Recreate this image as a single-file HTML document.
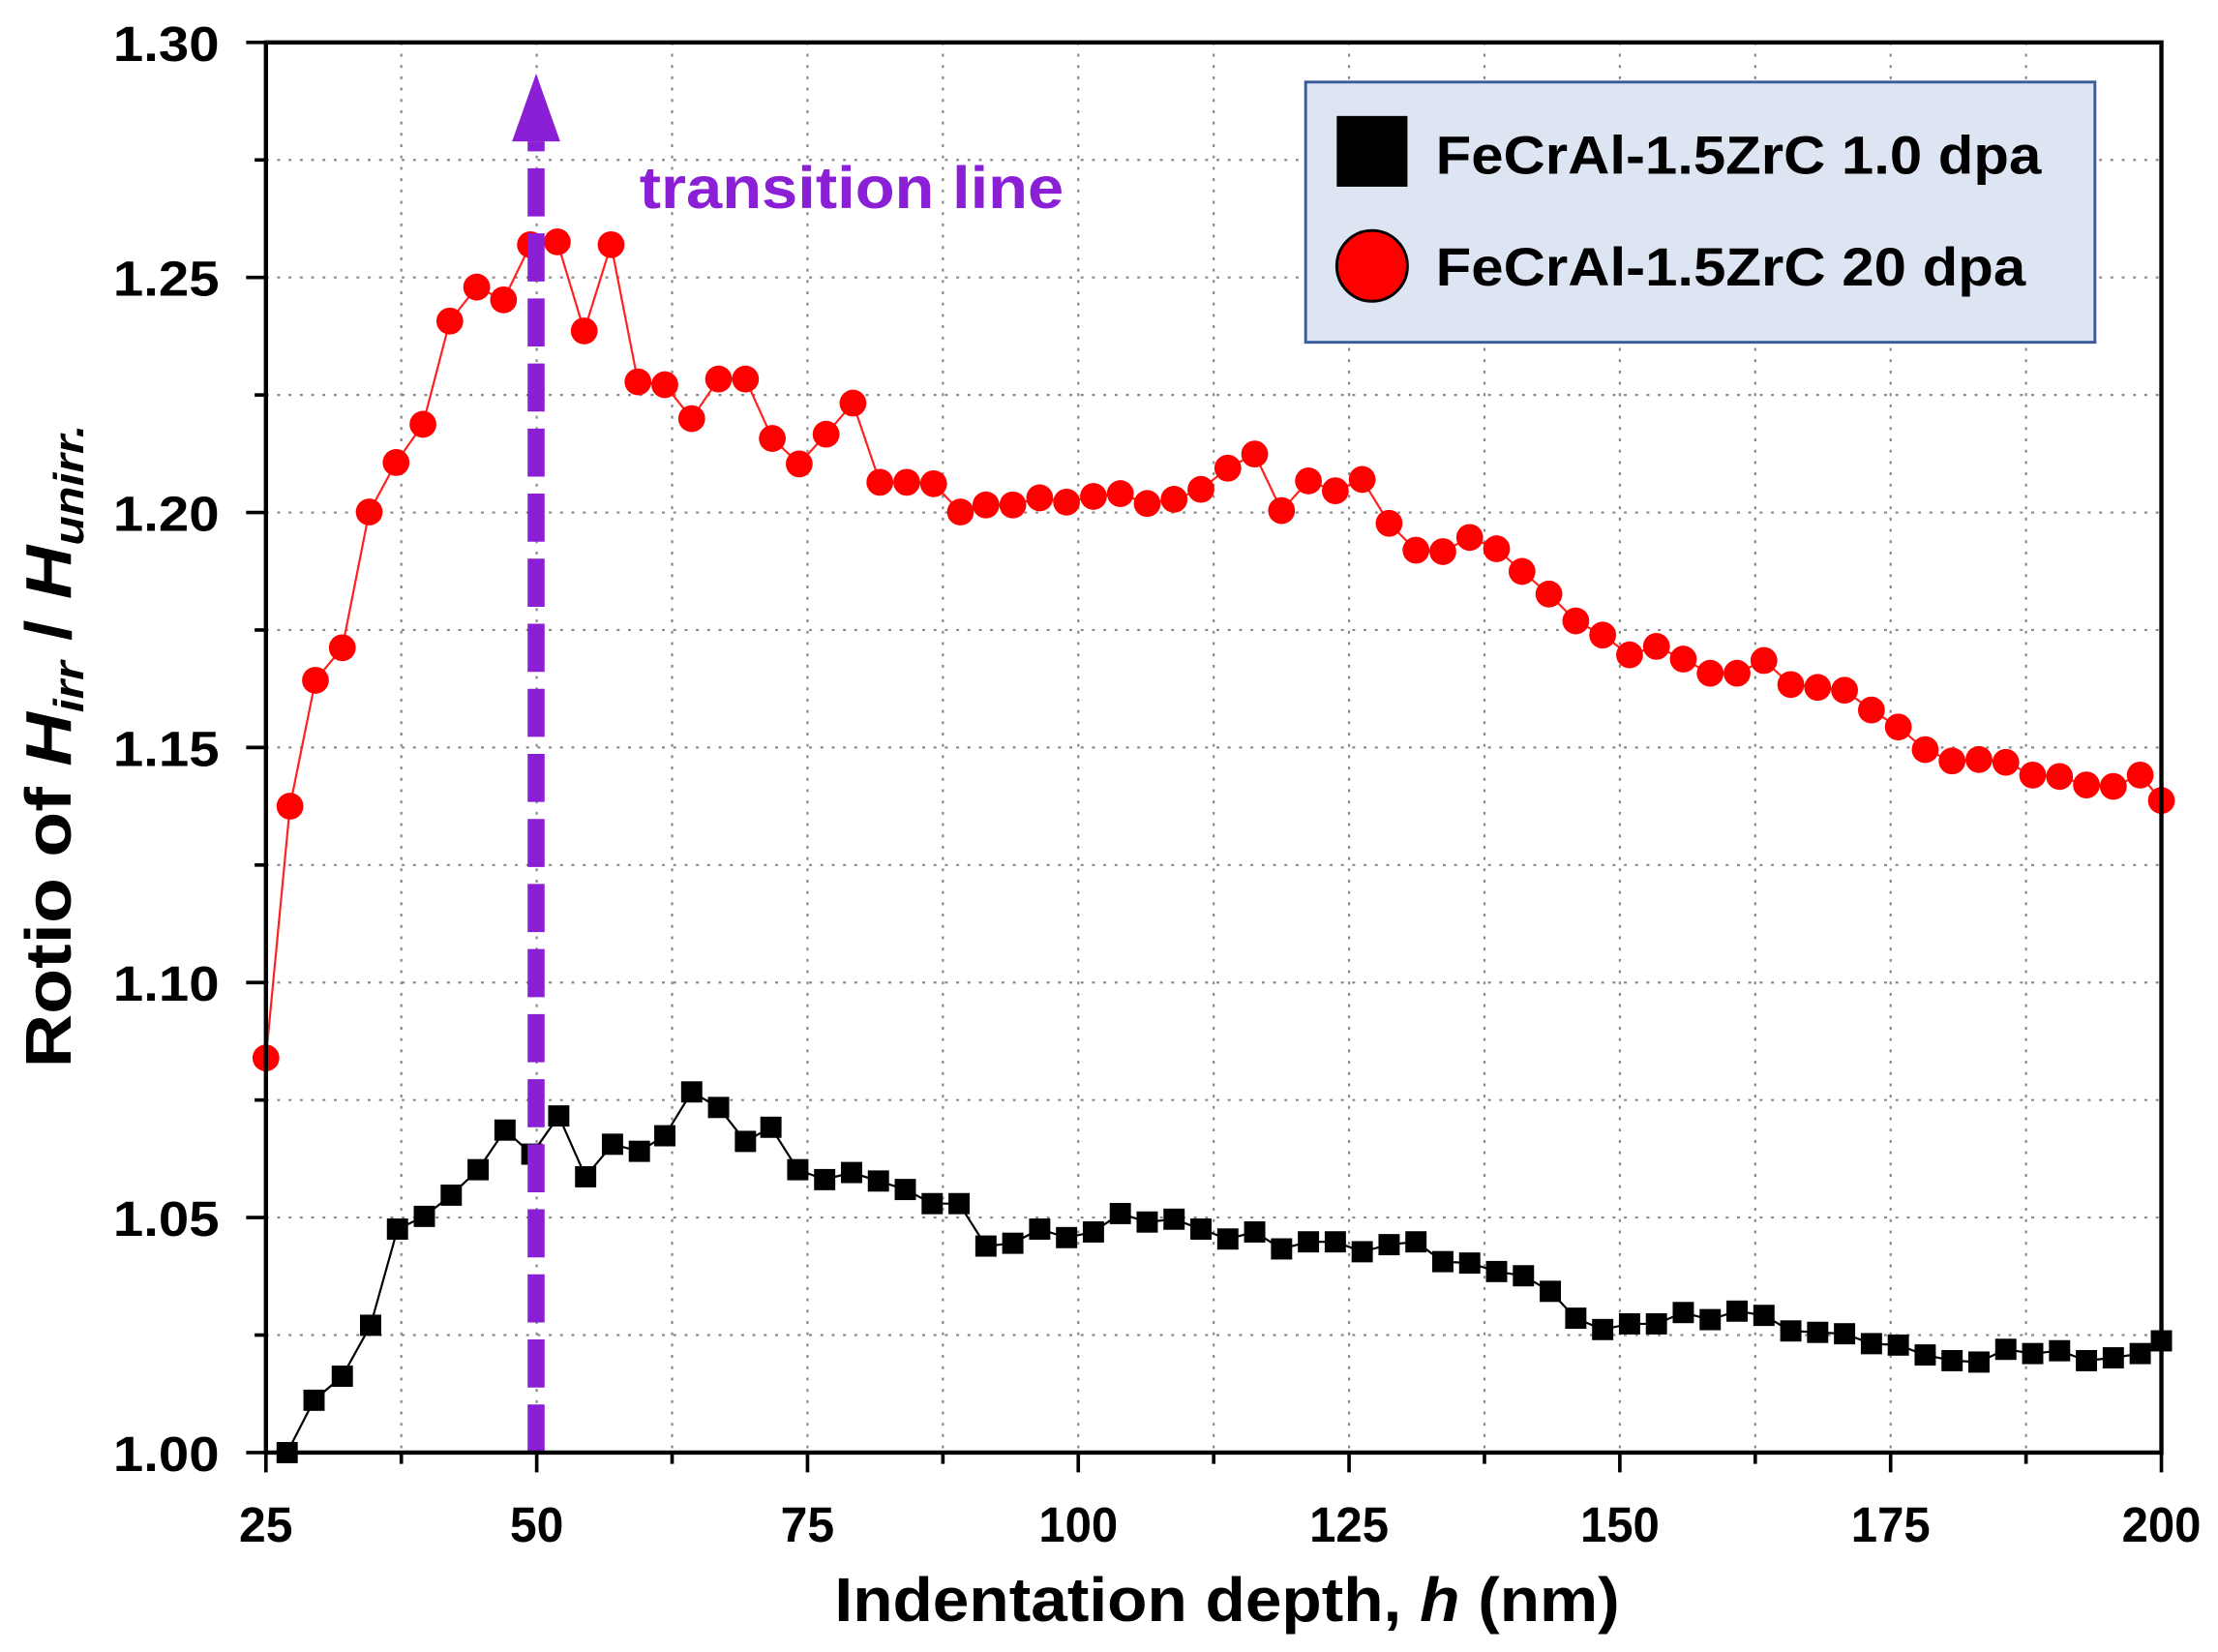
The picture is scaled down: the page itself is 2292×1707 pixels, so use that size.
<!DOCTYPE html>
<html><head><meta charset="utf-8"><style>
html,body{margin:0;padding:0;background:#fff;}
svg{display:block;font-family:"Liberation Sans",Arial,sans-serif;}
</style></head><body>
<svg id="s" width="2292" height="1707" viewBox="0 0 1568 1168" preserveAspectRatio="none" xmlns="http://www.w3.org/2000/svg">
<rect width="1568" height="1168" fill="#fff"/>
<g id="grid" stroke="#888" stroke-width="1.5" stroke-dasharray="2 6"></g>
<g id="ticks" stroke="#000" stroke-width="2.5"></g>
<g id="labels" font-weight="bold" font-size="35" fill="#000"></g>
<polyline id="rl" fill="none" stroke="#ff2020" stroke-width="1.5"/>
<polyline id="bl" fill="none" stroke="#000" stroke-width="1.5"/>
<g id="rm" fill="#ff0000"></g>
<g id="bm" fill="#000"></g>
<line x1="379" y1="1027" x2="379" y2="100" stroke="#8a1fd6" stroke-width="12" stroke-dasharray="34 12"/>
<polygon points="379,52 362,100 396,100" fill="#8a1fd6"/>
<text x="452" y="147" font-size="42" font-weight="bold" fill="#8a1fd6" textLength="300" lengthAdjust="spacingAndGlyphs">transition line</text>
<rect x="188" y="30" width="1340" height="997" fill="none" stroke="#000" stroke-width="3"/>
<rect x="923" y="58" width="558" height="184" fill="#dde4f2" stroke="#3a5a9a" stroke-width="2"/>
<rect x="945" y="82" width="50" height="50" fill="#000"/>
<circle cx="970" cy="188" r="25" fill="#ff0000" stroke="#000" stroke-width="2"/>
<text x="1015" y="123" font-size="38" font-weight="bold" textLength="428" lengthAdjust="spacingAndGlyphs">FeCrAl-1.5ZrC 1.0 dpa</text>
<text x="1015" y="202" font-size="38" font-weight="bold" textLength="417" lengthAdjust="spacingAndGlyphs">FeCrAl-1.5ZrC 20 dpa</text>
<text x="590" y="1146" font-size="44" font-weight="bold" textLength="555" lengthAdjust="spacingAndGlyphs">Indentation depth, <tspan font-style="italic">h</tspan> (nm)</text>
<text transform="translate(50,755) rotate(-90)" font-size="46" font-weight="bold" textLength="455" lengthAdjust="spacingAndGlyphs">Rotio of <tspan font-style="italic">H</tspan><tspan font-style="italic" font-size="30" dy="9">irr</tspan><tspan dy="-9"> / </tspan><tspan font-style="italic">H</tspan><tspan font-style="italic" font-size="30" dy="9">unirr.</tspan></text>
</svg>
<script>
var NS="http://www.w3.org/2000/svg";
function el(p,t,a){var e=document.createElementNS(NS,t);for(var k in a)e.setAttribute(k,a[k]);document.getElementById(p).appendChild(e);return e;}
var L=188,R=1528,T=30,B=1027;
for(var i=1;i<14;i++){var x=L+i*(R-L)/14;el("grid","line",{x1:x,y1:T,x2:x,y2:B});}
for(var i=1;i<12;i++){var y=T+i*(B-T)/12;el("grid","line",{x1:L,y1:y,x2:R,y2:y});}
for(var i=0;i<=14;i++){var x=L+i*(R-L)/14,len=i%2?8:14;el("ticks","line",{x1:x,y1:B,x2:x,y2:B+len});
 if(i%2==0){var v=25+i/2*25;var w=v>=100?56:38;var t=el("labels","text",{x:x-w/2,y:1090,textLength:w,lengthAdjust:"spacingAndGlyphs"});t.textContent=v;}}
for(var i=0;i<=12;i++){var y=B-i*(B-T)/12,len=i%2?8:14;el("ticks","line",{x1:L,y1:y,x2:L-len,y2:y});
 if(i%2==0){var t=el("labels","text",{x:80,y:y+13,textLength:75,lengthAdjust:"spacingAndGlyphs"});t.textContent=(1+i/2*0.05).toFixed(2);}}
var red=[188,748,205,570,223,481,242,458,261,362,280,327,299,300,318,227,337,203,356,212,375,173,394,171,413,234,432,173,451,270,470,272,489,296,508,268,527,268,546,310,565,328,584,307,603,285,622,341,641,341,660,342,679,362,697,357,716,357,735,352,754,355,773,351,792,349,811,356,830,353,849,346,868,331,887,321,906,361,925,340,944,347,963,339,982,370,1001,389,1020,390,1039,380,1058,388,1076,404,1095,420,1114,439,1133,449,1152,463,1171,457,1190,466,1209,476,1228,476,1247,467,1266,484,1285,486,1304,488,1323,502,1342,514,1361,530,1380,538,1399,537,1418,539,1437,548,1456,549,1475,555,1494,556,1513,548,1528,566];
var blk=[203,1027,222,990,242,973,262,937,281,869,300,860,319,845,338,827,357,799,376,816,395,789,414,832,433,809,452,814,470,803,489,772,508,783,527,807,545,797,564,827,583,834,602,829,621,835,640,841,659,851,678,851,697,881,716,879,735,869,754,875,773,871,792,858,811,864,830,862,849,869,868,876,887,871,906,883,925,878,944,878,963,885,982,880,1001,878,1020,892,1039,893,1058,899,1077,902,1096,913,1114,932,1133,940,1152,936,1171,936,1190,928,1209,933,1228,927,1247,930,1266,941,1285,942,1304,943,1323,950,1342,951,1361,958,1380,962,1399,963,1418,954,1437,957,1456,955,1475,962,1494,960,1513,957,1528,948];
var p="";for(var i=0;i<red.length;i+=2){p+=red[i]+","+red[i+1]+" ";el("rm","circle",{cx:red[i],cy:red[i+1],r:9.5});}
document.getElementById("rl").setAttribute("points",p);
p="";for(var i=0;i<blk.length;i+=2){p+=blk[i]+","+blk[i+1]+" ";el("bm","rect",{x:blk[i]-7.5,y:blk[i+1]-7.5,width:15,height:15});}
document.getElementById("bl").setAttribute("points",p);
</script>
</body></html>
